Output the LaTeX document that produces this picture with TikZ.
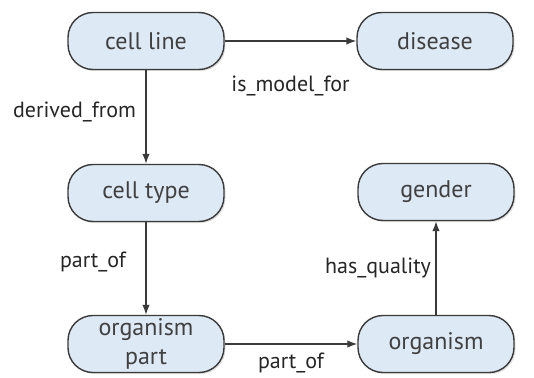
\documentclass[tikz,border=0pt]{standalone}
\usepackage{fontspec}
\setmainfont{PT Sans}
\usetikzlibrary{arrows.meta,shadows}
\definecolor{termfill}{HTML}{DDE9F5}
\definecolor{termline}{HTML}{3A3A3A}

\begin{document}
\begin{tikzpicture}[
  x=1pt,y=-1pt,>={Latex[length=10pt,width=7.5pt]},
  term/.style={draw=termline,line width=1.4pt,rounded corners=25pt,fill=termfill,
    align=center,font=\fontsize{24}{29}\selectfont,text=black!75,
    minimum width=156pt,minimum height=57pt,inner sep=1pt,
    drop shadow={opacity=0.25,shadow xshift=1.5pt,shadow yshift=-1.5pt}},
  rel/.style={->,line width=1.4pt,termline},
  lbl/.style={font=\fontsize{22}{24}\selectfont,text=black!85}
]
\useasboundingbox (0,0) rectangle (534,377);
\node[term] (cellline) at (146,41)  {cell line};
\node[term] (disease)  at (435,41)  {disease};
\node[term] (celltype) at (146,193) {cell type};
\node[term] (gender)   at (436,192) {gender};
\node[term] (orgpart)  at (146,344) {organism\\part};
\node[term] (organism) at (436,344) {organism};
\draw[rel] (cellline) -- node[lbl,below=31pt] {is\_model\_for} (disease);
\draw[rel] (cellline) -- node[lbl,left=6pt,pos=0.45] {derived\_from} (celltype);
\draw[rel] (celltype) -- node[lbl,left=16pt,pos=0.43] {part\_of} (orgpart);
\draw[rel] (orgpart) -- node[lbl,below=5pt] {part\_of} (organism);
\draw[rel] (organism) -- node[lbl,left=1pt] {has\_quality} (gender);
\end{tikzpicture}
\end{document}
